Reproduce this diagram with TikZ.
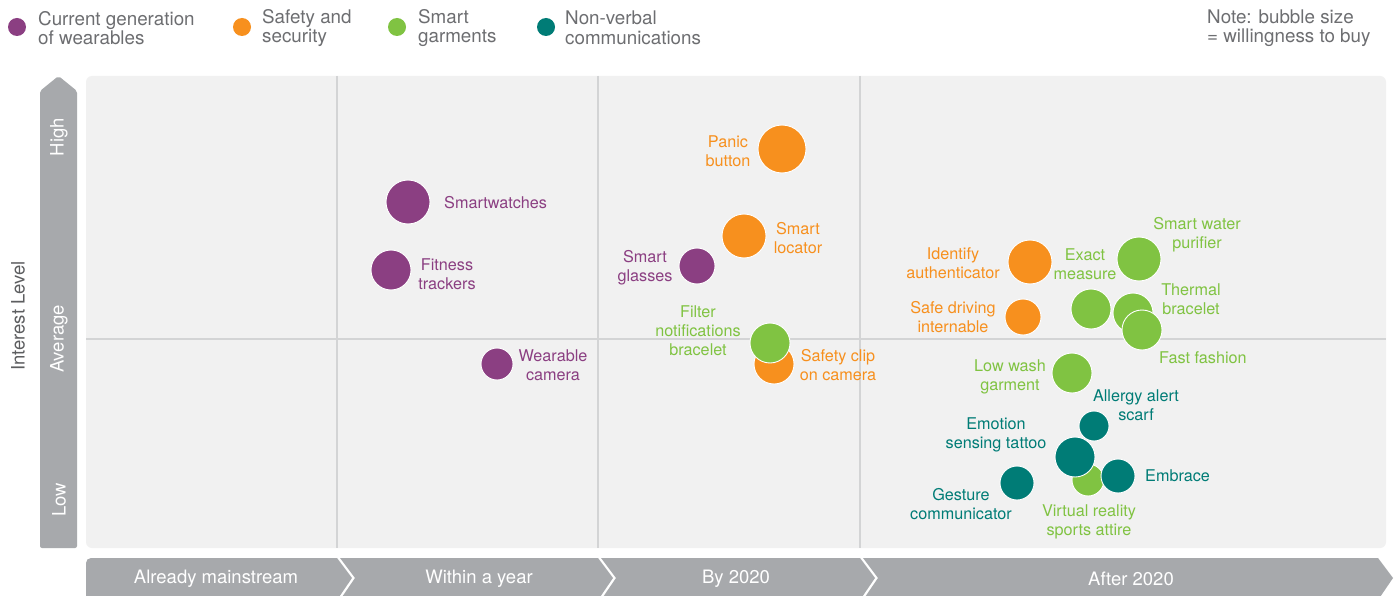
\documentclass[tikz,border=0pt]{standalone}
\usepackage{fontspec}
\setmainfont{TeX Gyre Heros}
\definecolor{cpurple}{HTML}{8B3F82}
\definecolor{corange}{HTML}{F7901E}
\definecolor{cgreen}{HTML}{80C342}
\definecolor{cteal}{HTML}{007C76}
\definecolor{barg}{HTML}{A7A9AC}
\definecolor{plotbg}{HTML}{F1F1F1}
\definecolor{gridc}{HTML}{D3D4D5}
\definecolor{txtg}{HTML}{6D6E71}
\begin{document}
\begin{tikzpicture}[x=1pt,y=-1pt,
  bub/.style={circle,draw=white,line width=0.9pt,inner sep=0pt,minimum size=#1},
  lab/.style={align=center,inner sep=0pt,font=\fontsize{16.2}{19}\selectfont},
  leg/.style={align=left,inner sep=0pt,anchor=west,text=txtg,font=\fontsize{18.8}{19.5}\selectfont},
  axl/.style={inner sep=0pt,text=white,font=\fontsize{18.5}{19}\selectfont,rotate=90},
  seg/.style={fill=barg},
  gridl/.style={draw=gridc,line width=2pt}]
\useasboundingbox (0,0) rectangle (1394,596);
\fill[white] (0,0) rectangle (1394,596);
% plot area
\fill[plotbg,rounded corners=6pt] (86,76) rectangle (1386,548);
\draw[gridl] (337,76) -- (337,548);
\draw[gridl] (598,76) -- (598,548);
\draw[gridl] (860,76) -- (860,548);
\draw[gridl] (86,339) -- (1386,339);
% y axis bar
\fill[barg,rounded corners=2pt] (40,548) -- (40,91) -- (58.5,76) -- (77,91) -- (77,548) -- cycle;
\node[axl] (yhigh) at (59,137) {High};
\node[axl] (yavg) at (59,339) {Average};
\node[axl] (ylow) at (59,500) {Low};
\node[inner sep=0pt,rotate=90,text=txtg!85!black,font=\fontsize{18.5}{19}\selectfont] (ytitle) at (18,316) {Interest Level};
% bottom chevrons
\fill[seg,rounded corners=5pt] (86,600) -- (86,558) -- (300,558) [sharp corners] -- (337,558) -- (352,578) -- (337,600) -- cycle;
\fill[seg] (340,558) -- (598,558) -- (613,578) -- (598,600) -- (340,600) -- (355,578) -- cycle;
\fill[seg] (601,558) -- (860,558) -- (875,578) -- (860,600) -- (601,600) -- (616,578) -- cycle;
\fill[seg] (863,558) -- (1378,558) -- (1393,578) -- (1378,600) -- (863,600) -- (878,578) -- cycle;
\node[axl,rotate=-90] (x1) at (216,579) {Already mainstream};
\node[axl,rotate=-90] (x2) at (479,579) {Within a year};
\node[axl,rotate=-90] (x3) at (736,579) {By 2020};
\node[axl,rotate=-90] (x4) at (1131,579) {After 2020};
% legend
\node[bub=18pt,fill=cpurple,draw=none] (l1) at (17,27) {};
\node[leg] (l1t) at (38,28) {Current generation\\of wearables};
\node[bub=18pt,fill=corange,draw=none] (l2) at (242,27) {};
\node[leg] (l2t) at (262,28) {Safety and\\security};
\node[bub=18pt,fill=cgreen,draw=none] (l3) at (397,27) {};
\node[leg] (l3t) at (418,28) {Smart\\garments};
\node[bub=18pt,fill=cteal,draw=none] (l4) at (546,27) {};
\node[leg] (l4t) at (565,28) {Non-verbal\\communications};
\node[leg] (note) at (1207,28) {Note: bubble size\\= willingness to buy};
% purple bubbles
\node[bub=44pt,fill=cpurple] (sw) at (408,202) {};
\node[lab,text=cpurple,anchor=west] (swt) at (444,203) {Smartwatches};
\node[bub=40pt,fill=cpurple] (ft) at (391,270) {};
\node[lab,text=cpurple] (ftt) at (447,274) {Fitness\\trackers};
\node[bub=32pt,fill=cpurple] (wc) at (497,364) {};
\node[lab,text=cpurple] (wct) at (553,365) {Wearable\\camera};
\node[bub=36pt,fill=cpurple] (sg) at (697,266) {};
\node[lab,text=cpurple] (sgt) at (645,268) {Smart\\glasses};
% orange bubbles
\node[bub=48pt,fill=corange] (pb) at (782,149) {};
\node[lab,text=corange] (pbt) at (728,151) {Panic\\button};
\node[bub=44pt,fill=corange] (sl) at (744,236) {};
\node[lab,text=corange] (slt) at (798,238) {Smart\\locator};
\node[bub=40pt,fill=corange] (sc) at (774,364) {};
\node[lab,text=corange] (sct) at (838,365) {Safety clip\\on camera};
\node[bub=44pt,fill=corange] (ia) at (1030,262) {};
\node[lab,text=corange] (iat) at (953,263) {Identify\\authenticator};
\node[bub=36pt,fill=corange] (sd) at (1023,317) {};
\node[lab,text=corange] (sdt) at (953,317) {Safe driving\\internable};
% green bubbles
\node[bub=40pt,fill=cgreen] (fn) at (770,343) {};
\node[lab,text=cgreen] (fnt) at (698,331) {Filter\\notifications\\bracelet};
\node[bub=44pt,fill=cgreen] (swp) at (1139,259) {};
\node[lab,text=cgreen] (swpt) at (1197,235) {Smart water\\purifier};
\node[bub=40pt,fill=cgreen] (em) at (1091,309) {};
\node[lab,text=cgreen] (emt) at (1085,264) {Exact\\measure};
\node[bub=40pt,fill=cgreen] (tb) at (1133,313) {};
\node[lab,text=cgreen] (tbt) at (1191,299) {Thermal\\bracelet};
\node[bub=40pt,fill=cgreen] (ff) at (1142,330) {};
\node[lab,text=cgreen,anchor=west] (fft) at (1159,358) {Fast fashion};
\node[bub=40pt,fill=cgreen] (lw) at (1072,373) {};
\node[lab,text=cgreen] (lwt) at (1010,377) {Low wash\\garment};
\node[bub=32pt,fill=cgreen] (vr) at (1088,480) {};
\node[lab,text=cgreen] (vrt) at (1089,522) {Virtual reality\\sports attire};
% teal bubbles
\node[bub=30pt,fill=cteal] (aa) at (1094,426) {};
\node[lab,text=cteal] (aat) at (1136,405) {Allergy alert\\scarf};
\node[bub=40pt,fill=cteal] (et) at (1075,457) {};
\node[lab,text=cteal] (ett) at (996,435) {Emotion\\sensing tattoo};
\node[bub=34pt,fill=cteal] (eb) at (1118,476) {};
\node[lab,text=cteal,anchor=west] (ebt) at (1145,476) {Embrace};
\node[bub=34pt,fill=cteal] (gc) at (1017,483) {};
\node[lab,text=cteal] (gct) at (961,504) {Gesture\\communicator};
\end{tikzpicture}
\end{document}
